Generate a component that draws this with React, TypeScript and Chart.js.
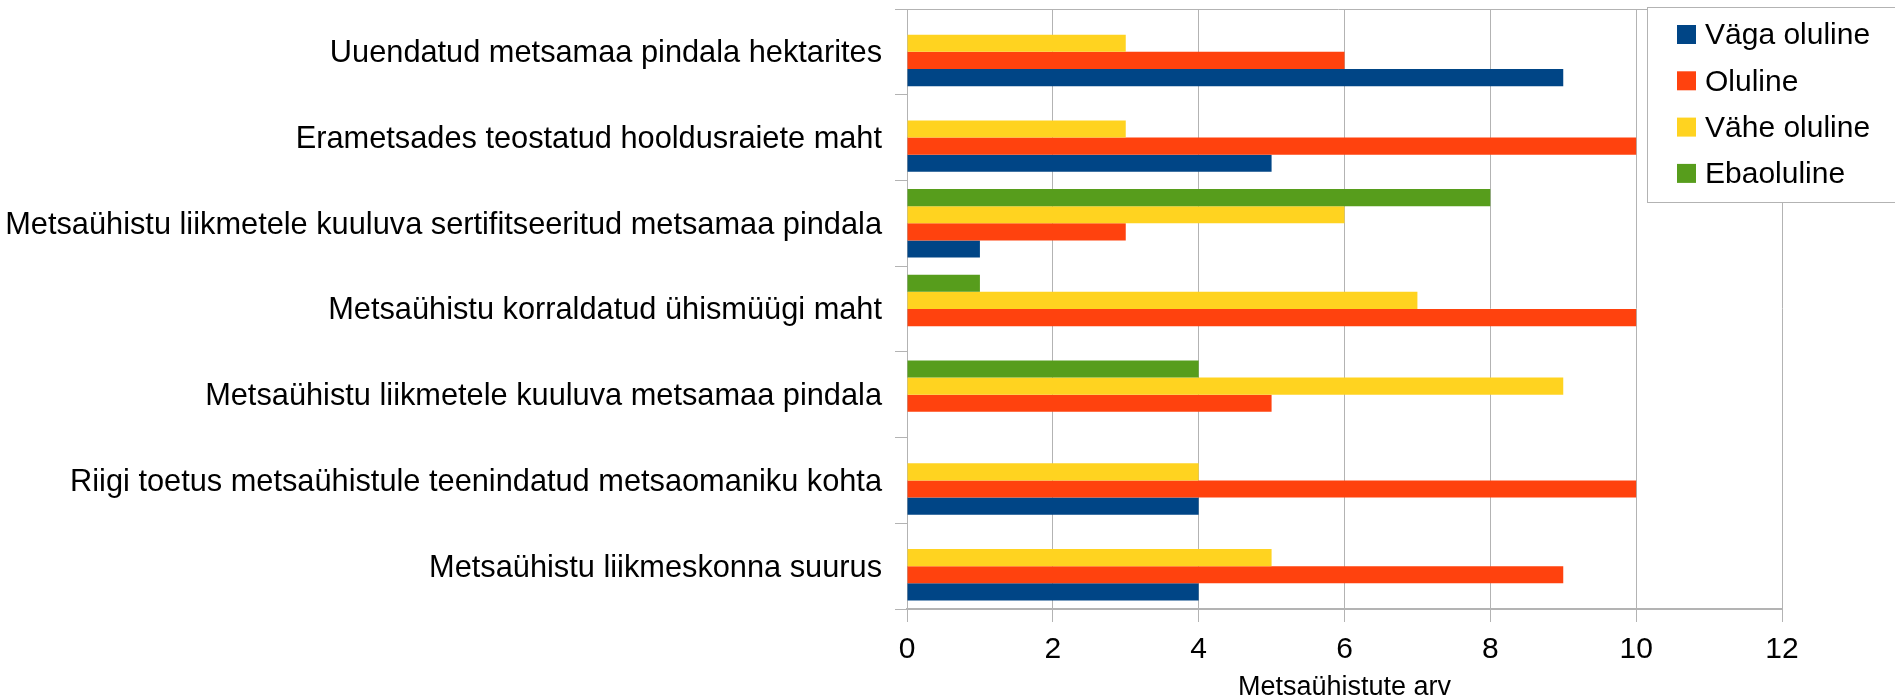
import React, { useEffect, useRef } from "react";
import { Chart, registerables } from "chart.js";

Chart.register(...registerables);

const categories = [
  "Uuendatud metsamaa pindala hektarites",
  "Erametsades teostatud hooldusraiete maht",
  "Metsaühistu liikmetele kuuluva sertifitseeritud metsamaa pindala",
  "Metsaühistu korraldatud ühismüügi maht",
  "Metsaühistu liikmetele kuuluva metsamaa pindala",
  "Riigi toetus metsaühistule teenindatud metsaomaniku kohta",
  "Metsaühistu liikmeskonna suurus",
];

const vagaOluline = [9, 5, 1, 0, 0, 4, 4];
const oluline = [6, 10, 3, 10, 5, 10, 9];
const vaheOluline = [3, 3, 6, 7, 9, 4, 5];
const ebaoluline = [0, 0, 8, 1, 4, 0, 0];

const xTicks = [0, 2, 4, 6, 8, 10, 12];
const xTitle = "Metsaühistute arv";

const legendItems = [
  { label: "Väga oluline", color: "#004586" },
  { label: "Oluline", color: "#ff420e" },
  { label: "Vähe oluline", color: "#ffd320" },
  { label: "Ebaoluline", color: "#579d1c" },
];

const FONT = "'Liberation Sans', Arial, sans-serif";
const GRID = "#b3b3b3";

const W = 1895;
const H = 720;
const PLOT_LEFT = 907;
const PLOT_TOP = 9;
const PLOT_BOTTOM = 609;
const PLOT_RIGHT = 1782;

const extrasPlugin = {
  id: "extras",
  afterDraw(chart: any) {
    const ctx = chart.ctx;
    const ca = chart.chartArea;
    ctx.save();
    // top border
    ctx.strokeStyle = GRID;
    ctx.lineWidth = 1;
    ctx.beginPath();
    ctx.moveTo(ca.left - 12, Math.round(ca.top) + 0.5);
    ctx.lineTo(ca.right, Math.round(ca.top) + 0.5);
    ctx.stroke();
    // legend box
    const bx = 1647.5, by = 7.5, bw = 260, bh = 195;
    ctx.fillStyle = "#ffffff";
    ctx.fillRect(bx, by, bw, bh);
    ctx.strokeStyle = "#b3b3b3";
    ctx.strokeRect(bx, by, bw, bh);
    ctx.font = `30px ${FONT}`;
    ctx.textBaseline = "middle";
    ctx.textAlign = "left";
    legendItems.forEach((it, i) => {
      const cy = 34 + i * 46.3;
      ctx.fillStyle = it.color;
      ctx.fillRect(1677, cy - 9, 19, 19);
      ctx.fillStyle = "#000000";
      ctx.fillText(it.label, 1705, cy + 2);
    });
    ctx.restore();
  },
};

export default function App() {
  const ref = useRef<HTMLCanvasElement | null>(null);
  useEffect(() => {
    if (!ref.current) return;
    const chart = new Chart(ref.current, {
      type: "bar",
      data: {
        labels: categories,
        datasets: [
          { label: "Ebaoluline", data: ebaoluline, backgroundColor: "#579d1c" },
          { label: "Vähe oluline", data: vaheOluline, backgroundColor: "#ffd320" },
          { label: "Oluline", data: oluline, backgroundColor: "#ff420e" },
          { label: "Väga oluline", data: vagaOluline, backgroundColor: "#004586" },
        ],
      },
      options: {
        indexAxis: "y",
        responsive: false,
        animation: false,
        maintainAspectRatio: false,
        layout: { padding: { left: 0, right: W - PLOT_RIGHT, top: PLOT_TOP, bottom: 0 } },
        datasets: { bar: { categoryPercentage: 0.8, barPercentage: 1.0, borderWidth: 0 } },
        plugins: { legend: { display: false }, tooltip: { enabled: false }, title: { display: false } },
        scales: {
          x: {
            min: 0,
            max: 12,
            afterBuildTicks: (scale: any) => {
              scale.ticks = xTicks.map((v) => ({ value: v }));
            },
            afterFit: (scale: any) => {
              scale.height = H - PLOT_BOTTOM;
              scale.paddingLeft = 0;
              scale.paddingRight = 0;
            },
            grid: { color: GRID, tickLength: 13, lineWidth: 1 },
            border: { color: GRID, width: 2 },
            ticks: { color: "#000", font: { family: FONT, size: 30 }, padding: 10, maxRotation: 0 },
            title: {
              display: true,
              text: xTitle,
              color: "#000",
              font: { family: FONT, size: 27 },
              padding: { top: 0, bottom: 16 },
            },
          },
          y: {
            afterFit: (scale: any) => {
              scale.width = PLOT_LEFT;
              scale.paddingTop = 0;
              scale.paddingBottom = 0;
            },
            grid: { color: GRID, drawOnChartArea: false, tickLength: 12, offset: true },
            border: { color: GRID, width: 1 },
            ticks: { color: "#000", font: { family: FONT, size: 30.75 }, padding: 13, labelOffset: 2, autoSkip: false },
          },
        },
      },
      plugins: [extrasPlugin],
    });
    return () => chart.destroy();
  }, []);
  return (
    <div style={{ position: "fixed", left: 0, top: 0, width: W, height: 699, overflow: "hidden", background: "#fff" }}>
      <canvas ref={ref} width={W} height={H} style={{ width: W, height: H, display: "block" }} />
    </div>
  );
}
